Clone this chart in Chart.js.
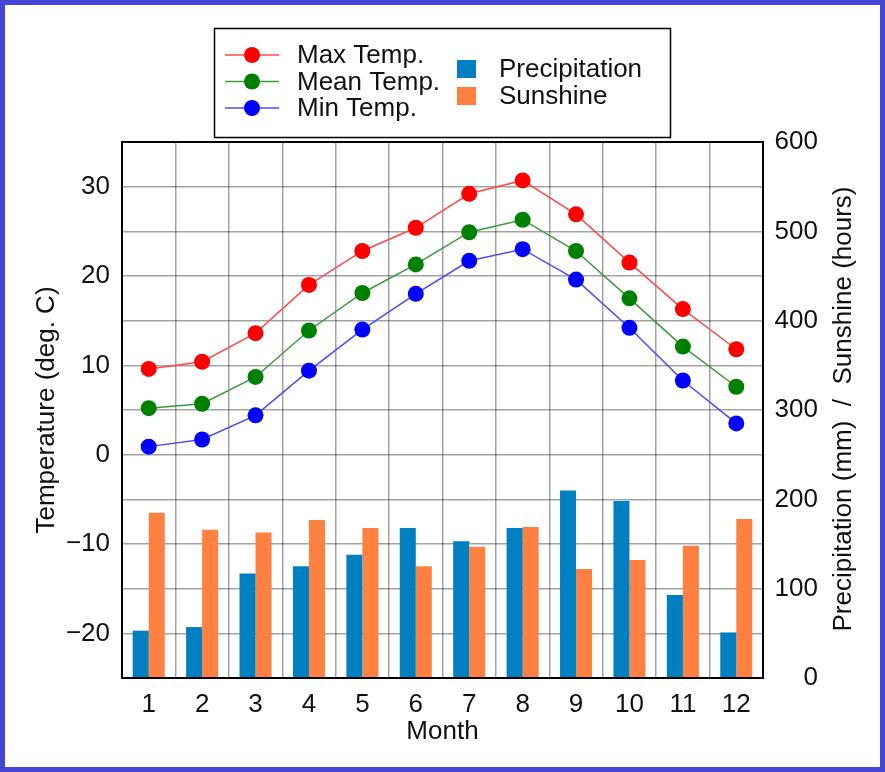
<!DOCTYPE html>
<html>
<head>
<meta charset="utf-8">
<script src="https://cdn.jsdelivr.net/npm/chart.js@4.4.1/dist/chart.umd.min.js"></script>
<style>
html,body{margin:0;padding:0;background:#fff;}
#frame{width:885px;height:772px;box-sizing:border-box;border:5px solid #4646d6;background:#fff;}
canvas{display:block;}
</style>
</head>
<body>
<div id="frame"><canvas id="c" width="875" height="762"></canvas></div>
<script>
// ---- data ----
const months = ['1','2','3','4','5','6','7','8','9','10','11','12'];
const maxTemp  = [9.6, 10.4, 13.6, 19.0, 22.8, 25.4, 29.2, 30.7, 26.9, 21.5, 16.3, 11.8];
const meanTemp = [5.2, 5.7, 8.7, 13.9, 18.1, 21.3, 24.9, 26.3, 22.8, 17.5, 12.1, 7.6];
const minTemp  = [0.9, 1.7, 4.4, 9.4, 14.0, 18.0, 21.7, 23.0, 19.6, 14.2, 8.3, 3.5];
const precipitation = [53, 57, 117, 125, 138, 168, 153, 168, 210, 198, 93, 51];
const sunshine      = [185, 166, 163, 177, 168, 125, 147, 169, 122, 132, 148, 178];
const tempTicks  = [-20, -10, 0, 10, 20, 30];
const rightTicks = [0, 100, 200, 300, 400, 500, 600];
const rightTitle = 'Precipitation (mm)  /  Sunshine (hours)';

const FONT = "'Liberation Sans', Arial, Helvetica, sans-serif";
const FS = 26;
Chart.defaults.font.family = FONT;
Chart.defaults.font.size = FS;
Chart.defaults.color = '#111';

const gridColor = 'rgba(0,0,0,0.36)';

const boxLegend = {
  id: 'boxLegend',
  afterDraw(chart) {
    const ctx = chart.ctx;
    const a = chart.chartArea;
    ctx.save();
    // plot frame
    ctx.strokeStyle = '#000';
    ctx.lineWidth = 2;
    ctx.strokeRect(a.left, a.top, a.right - a.left, a.bottom - a.top);
    // right axis title, reading bottom-to-top like the left one
    ctx.save();
    ctx.font = FS + 'px ' + FONT;
    ctx.fillStyle = '#111';
    ctx.textAlign = 'center';
    ctx.textBaseline = 'middle';
    ctx.translate(839, (a.top + a.bottom) / 2 - 1);
    ctx.rotate(-Math.PI / 2);
    ctx.fillText(rightTitle, 0, 0);
    ctx.restore();
    // legend box
    ctx.lineWidth = 1.5;
    ctx.strokeStyle = '#000';
    ctx.fillStyle = '#fff';
    ctx.fillRect(209.5, 23.5, 456, 109);
    ctx.strokeRect(209.5, 23.5, 456, 109);
    ctx.font = FS + 'px ' + FONT;
    ctx.textBaseline = 'middle';
    ctx.textAlign = 'left';
    let li = 0, bi = 0;
    chart.data.datasets.forEach(d => {
      if (d.type === 'line') {
        const y = 50 + li * 26.5;
        ctx.strokeStyle = d.borderColor;
        ctx.lineWidth = d.borderWidth;
        ctx.beginPath(); ctx.moveTo(220, y); ctx.lineTo(274, y); ctx.stroke();
        ctx.fillStyle = d.pointBackgroundColor;
        ctx.beginPath(); ctx.arc(247, y, d.pointRadius, 0, Math.PI * 2); ctx.fill();
        ctx.fillStyle = '#111';
        ctx.fillText(d.label, 292, y + 1);
        li++;
      } else {
        const y = 64 + bi * 27;
        ctx.fillStyle = d.backgroundColor;
        ctx.fillRect(452, y - 9, 19, 18);
        ctx.fillStyle = '#111';
        ctx.fillText(d.label, 494, y + 1);
        bi++;
      }
    });
    ctx.restore();
  }
};

new Chart(document.getElementById('c'), {
  type: 'bar',
  data: {
    labels: months,
    datasets: [
      { type: 'line', label: 'Max Temp.', data: maxTemp, yAxisID: 'y', order: 0,
        borderColor: '#ff4a4a', borderWidth: 1.5, pointBackgroundColor: '#ff0000',
        pointBorderColor: '#ff0000', pointBorderWidth: 0, pointRadius: 8, tension: 0 },
      { type: 'line', label: 'Mean Temp.', data: meanTemp, yAxisID: 'y', order: 0,
        borderColor: '#3c9a3c', borderWidth: 1.5, pointBackgroundColor: '#008000',
        pointBorderColor: '#008000', pointBorderWidth: 0, pointRadius: 8, tension: 0 },
      { type: 'line', label: 'Min Temp.', data: minTemp, yAxisID: 'y', order: 0,
        borderColor: '#4a4aff', borderWidth: 1.5, pointBackgroundColor: '#0000ff',
        pointBorderColor: '#0000ff', pointBorderWidth: 0, pointRadius: 8, tension: 0 },
      { type: 'bar', label: 'Precipitation', data: precipitation, yAxisID: 'y1', order: 1,
        backgroundColor: '#0080c0', barPercentage: 1, categoryPercentage: 0.6 },
      { type: 'bar', label: 'Sunshine', data: sunshine, yAxisID: 'y1', order: 1,
        backgroundColor: '#ff8040', barPercentage: 1, categoryPercentage: 0.6 }
    ]
  },
  options: {
    responsive: false,
    animation: false,
    devicePixelRatio: 1,
    layout: { padding: { top: 137, left: 0, right: 62, bottom: 0 } },
    plugins: { legend: { display: false }, tooltip: { enabled: false } },
    scales: {
      x: {
        type: 'category', offset: true,
        grid: { offset: true, color: gridColor, lineWidth: 1.5, drawTicks: false },
        border: { display: false },
        ticks: { padding: 11, maxRotation: 0 },
        title: { display: true, text: 'Month', padding: { top: 0, bottom: 20 } },
        afterFit(s) { s.height = 89; }
      },
      y: {
        position: 'left', min: -25, max: 35,
        afterBuildTicks(s) { s.ticks = tempTicks.map(v => ({ value: v })); },
        grid: { color: gridColor, lineWidth: 1.5, drawTicks: false },
        border: { display: false },
        ticks: { padding: 12, callback: v => String(v).replace('-', '\u2212') },
        title: { display: true, text: 'Temperature (deg. C)', padding: { top: 26, bottom: 0 } },
        afterFit(s) { s.width = 117; }
      },
      y1: {
        position: 'right', min: 0, max: 600,
        afterBuildTicks(s) { s.ticks = rightTicks.map(v => ({ value: v })); },
        grid: { color: gridColor, lineWidth: 1.5, drawTicks: false },
        border: { display: false },
        ticks: { padding: 13, crossAlign: 'far' },
        title: { display: false, text: rightTitle },
        afterFit(s) { s.width = 55; }
      }
    }
  },
  plugins: [boxLegend]
});
</script>
</body>
</html>
